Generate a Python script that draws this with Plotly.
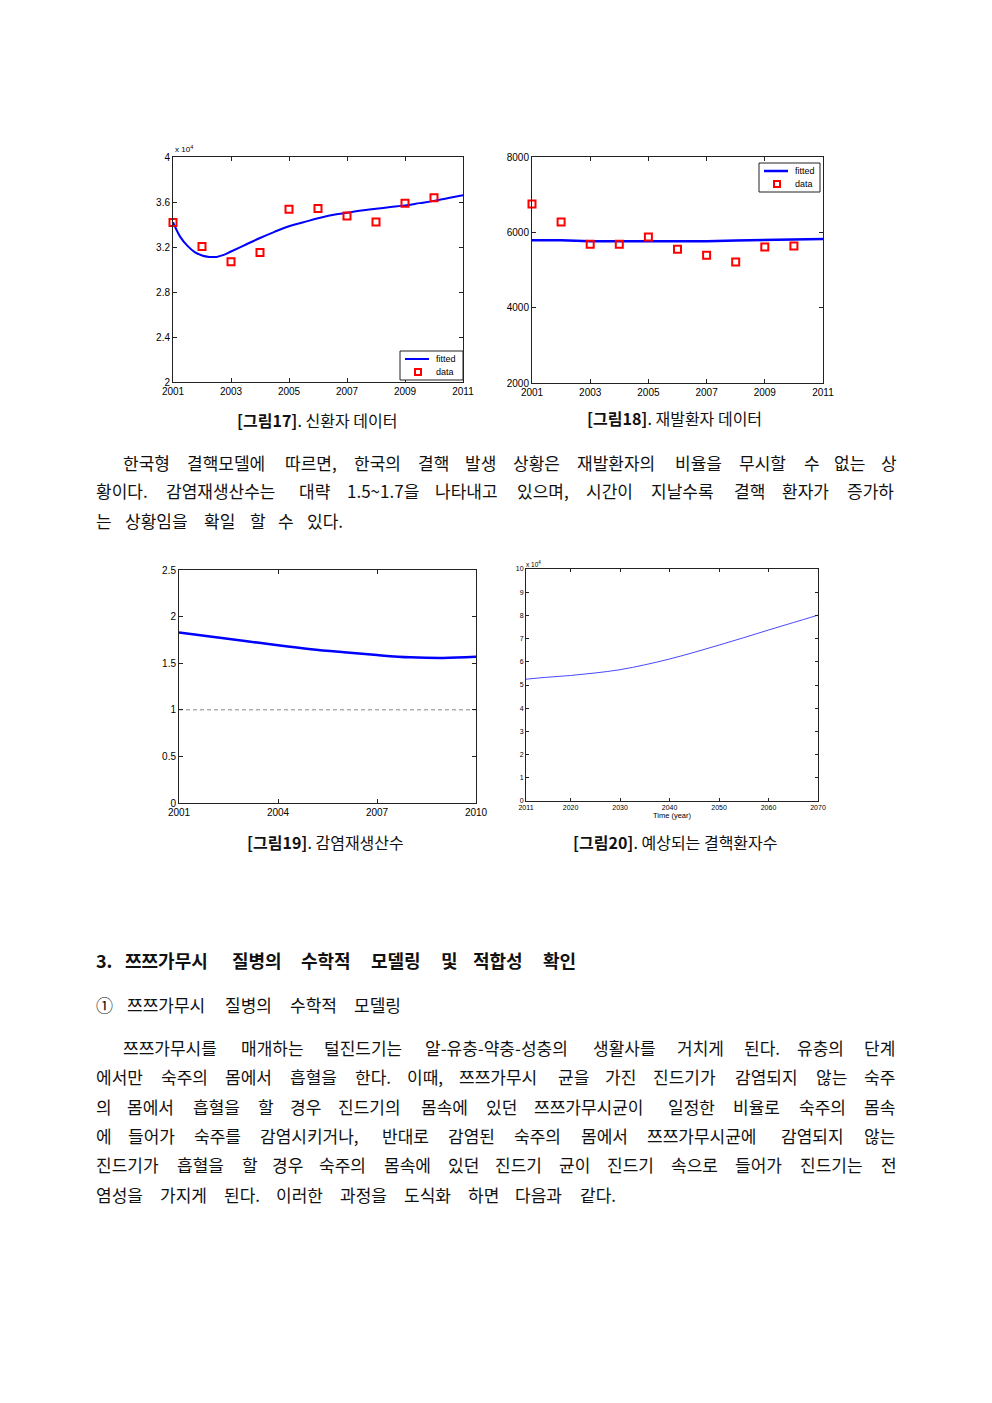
import plotly.graph_objects as go

W, H = 992, 1403
OX, OY = 8, 8  # page body margin compensation

# ---------------- data ----------------
# Fig 17: new patients
f17_years = [2001, 2002, 2003, 2004, 2005, 2006, 2007, 2008, 2009, 2010]
f17_data = [34170, 32050, 30680, 31520, 35360, 35420, 34760, 34230, 35890, 36370]
f17_fit_t = [2001.0, 2001.25, 2001.5, 2001.75, 2002.0, 2002.25, 2002.5, 2002.75, 2003.0,
             2003.5, 2004.0, 2004.5, 2005.0, 2005.5, 2006.0, 2006.5, 2007.0, 2007.5,
             2008.0, 2008.5, 2009.0, 2009.5, 2010.0, 2010.5, 2011.0]
f17_fit_v = [34200, 32900, 32100, 31550, 31250, 31120, 31120, 31300, 31600,
             32200, 32800, 33350, 33850, 34200, 34550, 34850, 35050, 35250,
             35400, 35550, 35700, 35900, 36100, 36350, 36600]
f17_yticks = [20000, 24000, 28000, 32000, 36000, 40000]
f17_ylabels = ["2", "2.4", "2.8", "3.2", "3.6", "4"]

# Fig 18: relapse patients
f18_years = [2001, 2002, 2003, 2004, 2005, 2006, 2007, 2008, 2009, 2010]
f18_data = [6752, 6274, 5681, 5681, 5876, 5549, 5389, 5212, 5610, 5637]
f18_fit_t = [2001, 2002, 2003, 2004, 2005, 2006, 2007, 2008, 2009, 2010, 2011]
f18_fit_v = [5790, 5790, 5762, 5760, 5760, 5762, 5765, 5785, 5795, 5810, 5822]

# Fig 19: reproduction number
f19_years = [2001, 2002, 2003, 2004, 2005, 2006, 2007, 2008, 2009, 2010]
f19_r = [1.830, 1.784, 1.739, 1.692, 1.650, 1.617, 1.587, 1.563, 1.555, 1.568]
f19_threshold = 1.0

# Fig 20: predicted TB patients
f20_years = [2011, 2015, 2020, 2025, 2030, 2035, 2040, 2045, 2050, 2055, 2060, 2065, 2070]
f20_v = [52500, 53300, 54100, 55200, 56600, 58700, 61200, 64100, 67200, 70400, 73700, 76900, 80100]
f20_xticks = [2011, 2020, 2030, 2040, 2050, 2060, 2070]
f20_yticks = [0, 10000, 20000, 30000, 40000, 50000, 60000, 70000, 80000, 90000, 100000]
f20_ylabels = ["0", "1", "2", "3", "4", "5", "6", "7", "8", "9", "10"]

legend_labels = ["fitted", "data"]

captions = ["[그림17]", ". 신환자 데이터",
            "[그림18]", ". 재발환자 데이터",
            "[그림19]", ". 감염재생산수",
            "[그림20]", ". 예상되는 결핵환자수"]

para1 = ["한국형 결핵모델에 따르면, 한국의 결핵 발생 상황은 재발환자의 비율을 무시할 수 없는 상",
         "황이다. 감염재생산수는 대략 1.5~1.7을 나타내고 있으며, 시간이 지날수록 결핵 환자가 증가하",
         "는 상황임을 확일 할 수 있다."]
heading = "3. 쯔쯔가무시 질병의 수학적 모델링 및 적합성 확인"
subheading = "① 쯔쯔가무시 질병의 수학적 모델링"
para2 = ["쯔쯔가무시를 매개하는 털진드기는 알-유충-약충-성충의 생활사를 거치게 된다. 유충의 단계",
         "에서만 숙주의 몸에서 흡혈을 한다. 이때, 쯔쯔가무시 균을 가진 진드기가 감염되지 않는 숙주",
         "의 몸에서 흡혈을 할 경우 진드기의 몸속에 있던 쯔쯔가무시균이 일정한 비율로 숙주의 몸속",
         "에 들어가 숙주를 감염시키거나, 반대로 감염된 숙주의 몸에서 쯔쯔가무시균에 감염되지 않는",
         "진드기가 흡혈을 할 경우 숙주의 몸속에 있던 진드기 균이 진드기 속으로 들어가 진드기는 전",
         "염성을 가지게 된다. 이러한 과정을 도식화 하면 다음과 같다."]

# ---------------- layout helpers ----------------
def px(x):
    return (x - OX) / W

def py(y):
    return 1 - (y - OY) / H

def xd(a, b):
    return [px(a), px(b)]

def yd(top, bottom):
    return [py(bottom), py(top)]

AX_FONT = dict(family="Liberation Sans, Arial", size=10, color="#000")
LINE_C = "#222"
BLUE = "#0000ff"
RED = "#ff0000"

def axis_style(**kw):
    d = dict(showline=True, linecolor=LINE_C, linewidth=1, mirror="ticks",
             ticks="inside", ticklen=4, tickcolor=LINE_C, showgrid=False,
             zeroline=False, tickfont=AX_FONT, automargin=False)
    d.update(kw)
    return d

fig = go.Figure()

# Fig 17
fig.add_trace(go.Scatter(x=f17_fit_t, y=f17_fit_v, mode="lines", name="fitted",
                         line=dict(color=BLUE, width=2, shape="spline"),
                         showlegend=False, xaxis="x", yaxis="y"))
fig.add_trace(go.Scatter(x=f17_years, y=f17_data, mode="markers", name="data",
                         marker=dict(symbol="square-open", size=7, color=RED,
                                     line=dict(width=2, color=RED)),
                         showlegend=False, cliponaxis=False, xaxis="x", yaxis="y"))
# Fig 18
fig.add_trace(go.Scatter(x=f18_fit_t, y=f18_fit_v, mode="lines", name="fitted",
                         line=dict(color=BLUE, width=2.5),
                         showlegend=False, xaxis="x2", yaxis="y2"))
fig.add_trace(go.Scatter(x=f18_years, y=f18_data, mode="markers", name="data",
                         marker=dict(symbol="square-open", size=7, color=RED,
                                     line=dict(width=2, color=RED)),
                         showlegend=False, cliponaxis=False, xaxis="x2", yaxis="y2"))
# Fig 19
fig.add_trace(go.Scatter(x=f19_years, y=f19_r, mode="lines", showlegend=False,
                         line=dict(color=BLUE, width=2.5, shape="spline"),
                         xaxis="x3", yaxis="y3"))
fig.add_trace(go.Scatter(x=[f19_years[0], f19_years[-1]], y=[f19_threshold, f19_threshold],
                         mode="lines", showlegend=False,
                         line=dict(color="#888888", width=1, dash="4px,3px"),
                         xaxis="x3", yaxis="y3"))
# Fig 20
fig.add_trace(go.Scatter(x=f20_years, y=f20_v, mode="lines", showlegend=False,
                         line=dict(color="rgba(40,40,255,0.85)", width=1, shape="spline"),
                         xaxis="x4", yaxis="y4"))

small_font = dict(family="Liberation Sans, Arial", size=7, color="#000")
LEG_FONT = dict(family="Liberation Sans, Arial", size=9, color="#000")

fig.update_layout(
    width=W, height=H, margin=dict(l=0, r=0, t=0, b=0, autoexpand=False),
    paper_bgcolor="white", plot_bgcolor="white", showlegend=False,
    xaxis=axis_style(domain=xd(173, 463), range=[2001, 2011],
                     tickvals=[2001, 2003, 2005, 2007, 2009, 2011], anchor="y"),
    yaxis=axis_style(domain=yd(157, 382), range=[20000, 40000],
                     tickvals=f17_yticks, ticktext=f17_ylabels, anchor="x"),
    xaxis2=axis_style(domain=xd(532, 823), range=[2001, 2011],
                      tickvals=[2001, 2003, 2005, 2007, 2009, 2011], anchor="y2"),
    yaxis2=axis_style(domain=yd(157, 383), range=[2000, 8000],
                      tickvals=[2000, 4000, 6000, 8000], anchor="x2"),
    xaxis3=axis_style(domain=xd(179, 476), range=[2001, 2010],
                      tickvals=[2001, 2004, 2007, 2010], anchor="y3"),
    yaxis3=axis_style(domain=yd(570, 803), range=[0, 2.5],
                      tickvals=[0, 0.5, 1, 1.5, 2, 2.5], anchor="x3"),
    xaxis4=axis_style(domain=xd(526, 818), range=[2011, 2070], tickvals=f20_xticks,
                      tickfont=small_font, ticklen=3, anchor="y4",
                      title=dict(text="Time (year)", font=dict(family="Liberation Sans, Arial", size=7.5, color="#000"),
                                 standoff=0)),
    yaxis4=axis_style(domain=yd(569, 801), range=[0, 100000], tickvals=f20_yticks,
                      ticktext=f20_ylabels, tickfont=small_font, ticklen=3, anchor="x4"),
)

annotations = []
shapes = []

# compact MATLAB-style legend boxes
def legend_box(x0, y0, x1, y1, line_w):
    shapes.append(dict(type="rect", xref="paper", yref="paper",
                       x0=px(x0), x1=px(x1), y0=py(y1), y1=py(y0),
                       line=dict(color="#222", width=1), fillcolor="white", layer="above"))
    row1 = y0 + 8
    row2 = y0 + 21
    shapes.append(dict(type="line", xref="paper", yref="paper",
                       x0=px(x0 + 5), x1=px(x0 + 29), y0=py(row1), y1=py(row1),
                       line=dict(color=BLUE, width=line_w), layer="above"))
    cx = x0 + 18
    shapes.append(dict(type="rect", xref="paper", yref="paper",
                       x0=px(cx - 3), x1=px(cx + 3), y0=py(row2 + 3), y1=py(row2 - 3),
                       line=dict(color=RED, width=2), fillcolor="white", layer="above"))
    for lab, ry in zip(legend_labels, [row1, row2]):
        annotations.append(dict(x=px(x0 + 35), y=py(ry), xref="paper", yref="paper",
                                text=lab, showarrow=False, xanchor="left", yanchor="middle",
                                font=LEG_FONT, borderpad=0))

legend_box(400, 351, 463, 380, 2)
legend_box(759, 163, 820, 192, 2.5)

# x10^4 labels
annotations.append(dict(x=px(173), y=py(149), xref="paper", yref="paper",
                        text="x 10<sup>4</sup>", showarrow=False, xanchor="left",
                        yanchor="middle", font=dict(family="Liberation Sans, Arial", size=8, color="#000")))
annotations.append(dict(x=px(524), y=py(564), xref="paper", yref="paper",
                        text="x 10<sup>4</sup>", showarrow=False, xanchor="left",
                        yanchor="middle", font=dict(family="Liberation Sans, Arial", size=6.5, color="#000")))

KFONT = "Noto Sans CJK KR"

# captions
cap_pos = [(317, 420), (674, 418), (325, 842), (675, 842)]
for i, (cx, cy) in enumerate(cap_pos):
    annotations.append(dict(
        x=px(cx), y=py(cy), xref="paper", yref="paper", showarrow=False,
        xanchor="center", yanchor="middle",
        text="<b>" + captions[2 * i] + "</b>" + captions[2 * i + 1],
        font=dict(family=KFONT, size=16, color="#111")))

def char_w(c, fs, bold=False):
    o = ord(c)
    if o >= 0x1100 or c == "①":
        w = 1.0
    elif c.isdigit():
        w = 0.55
    elif c in ".,":
        w = 0.26
    elif c == "~":
        w = 0.6
    elif c in "-[]":
        w = 0.34
    else:
        w = 0.55
    return w * fs * (1.03 if bold else 1.0)

def place_line(line, x0, x1, y, fs, bold=False):
    words = line.split(" ")
    widths = [sum(char_w(c, fs, bold) for c in wd) for wd in words]
    gap = (x1 - x0 - sum(widths)) / max(1, len(words) - 1)
    x = x0
    for wd, wdt in zip(words, widths):
        t = "<b>" + wd + "</b>" if bold else wd
        annotations.append(dict(x=px(x - 1), y=py(y), xref="paper", yref="paper",
                                showarrow=False, xanchor="left", yanchor="middle",
                                text=t, font=dict(family=KFONT, size=fs, color="#111")))
        x += wdt + gap

FS = 17
p1_geo = [(122, 897, 462), (95, 897, 491), (95, 344, 520)]
for line, (a, b, y) in zip(para1, p1_geo):
    place_line(line, a, b, y, FS)

place_line(heading, 95, 579, 960, 18, bold=True)
place_line(subheading, 95, 404, 1004, FS)

p2_geo = [(122, 897, 1047), (95, 897, 1076), (95, 897, 1106), (95, 897, 1135),
          (95, 897, 1164), (95, 617, 1194)]
for line, (a, b, y) in zip(para2, p2_geo):
    place_line(line, a, b, y, FS)

fig.update_layout(annotations=annotations, shapes=shapes)
fig.write_html("out.html")
